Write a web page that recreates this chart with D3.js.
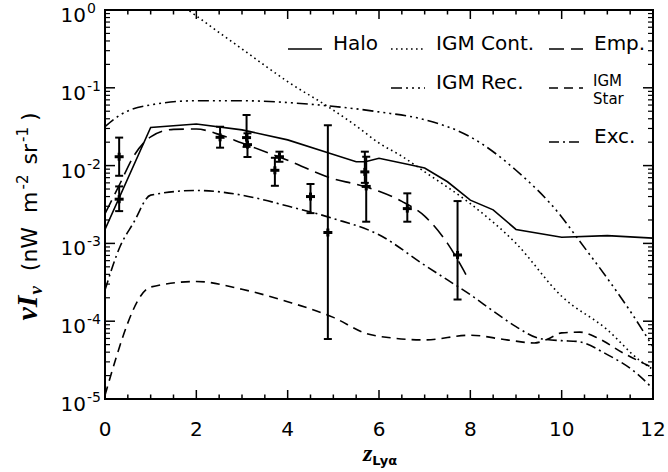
<!DOCTYPE html>
<html><head><meta charset="utf-8">
<script src="https://cdn.jsdelivr.net/npm/d3@7"></script>
<style>
html,body{margin:0;padding:0;background:#fff;}
svg text{font-family:"DejaVu Sans",sans-serif;fill:#000;}
</style></head>
<body><svg id="c" width="668" height="472"></svg>
<script>
// ---- data ----
const xTickValues = [0, 2, 4, 6, 8, 10, 12];
const yTickExps = [0, -1, -2, -3, -4, -5];

const haloZ = [0, 1, 2, 3, 4, 4.9, 5.5, 5.7, 6, 6.7, 7, 7.5, 8, 8.5, 9, 10, 11, 12];
const haloI = [1.51e-3, 3.09e-2, 3.43e-2, 2.88e-2, 2.14e-2, 1.45e-2, 1.12e-2, 1.12e-2, 1.24e-2, 1.02e-2, 9.3e-3, 6.2e-3, 3.6e-3, 2.7e-3, 1.51e-3, 1.20e-3, 1.26e-3, 1.17e-3];

const igmContZ = [1.4, 1.82, 2.5, 3, 3.54, 4, 4.85, 5.5, 6, 6.5, 7, 8, 9, 10, 11, 11.7, 12];
const igmContI = [1.48, 1.0, 0.513, 0.316, 0.186, 0.120, 0.0589, 0.0324, 0.0195, 0.0132, 0.00832, 0.00324, 1.0e-3, 2.09e-4, 7.76e-5, 3.16e-5, 2.4e-5];

const igmRecZ = [0, 0.33, 1, 2, 3, 4, 4.85, 6, 7, 8, 9, 10, 10.33, 11, 11.5, 12];
const igmRecI = [0.0316, 0.0447, 0.0603, 0.0682, 0.0682, 0.0646, 0.0589, 0.0490, 0.0389, 0.0234, 0.00871, 0.00219, 0.00120, 3.55e-4, 1.35e-4, 4.68e-5];

const empZ = [0, 0.33, 0.62, 1, 1.5, 2, 2.5, 3, 4, 5, 5.5, 6, 6.5, 7, 7.5, 7.95];
const empI = [2.40e-3, 5.89e-3, 1.30e-2, 2.34e-2, 2.92e-2, 2.95e-2, 2.51e-2, 1.95e-2, 1.17e-2, 6.76e-3, 5.75e-3, 4.68e-3, 3.47e-3, 2.24e-3, 1.0e-3, 3.55e-4];

const igmStarZ = [0, 1, 2, 3, 4, 5, 5.73, 6.2, 7, 8, 8.8, 9.4, 9.7, 10, 10.4, 10.8, 11.35, 11.86, 12];
const igmStarI = [1.12e-5, 2.75e-4, 3.24e-4, 2.57e-4, 1.78e-4, 1.12e-4, 6.92e-5, 6.17e-5, 5.75e-5, 6.61e-5, 5.75e-5, 5.25e-5, 5.89e-5, 7.08e-5, 7.24e-5, 6.03e-5, 3.89e-5, 2.75e-5, 2.51e-5];

const excZ = [0, 0.33, 0.62, 1, 2, 3, 3.4, 4, 5, 6, 7, 7.5, 8, 8.5, 9, 9.5, 10, 10.33, 11, 11.64, 12];
const excI = [2.51e-4, 9.12e-4, 1.82e-3, 4.17e-3, 4.79e-3, 4.17e-3, 3.72e-3, 3.02e-3, 2.09e-3, 1.29e-3, 5.25e-4, 3.39e-4, 2.19e-4, 1.35e-4, 8.51e-5, 6.03e-5, 5.62e-5, 5.50e-5, 3.72e-5, 2.14e-5, 1.35e-5];

const ptZ  = [0.31, 0.31, 2.52, 3.10, 3.12, 3.72, 3.82, 4.50, 4.88, 5.69, 5.72, 6.62, 7.72];
const ptI  = [0.013, 0.0037, 0.0231, 0.0229, 0.0186, 0.0087, 0.013, 0.0040, 0.00138, 0.0083, 0.0054, 0.0028, 7.1e-4];
const ptHi = [0.0229, 0.0054, 0.0316, 0.0447, 0.026, 0.0126, 0.0151, 0.0058, 0.033, 0.0151, 0.013, 0.0044, 0.0035];
const ptLo = [0.0074, 0.0026, 0.0170, 0.0174, 0.0129, 0.0055, 0.0112, 0.00245, 5.9e-5, 0.0060, 0.0019, 0.0019, 1.9e-4];

const legendNames = ["Halo", "IGM Cont.", "Emp.", "IGM Rec.", "IGM|Star", "Exc."];

// ---- layout ----
const L = 105, R = 653, T = 10, B = 399;
const svg = d3.select("#c");
const x = d3.scaleLinear().domain([0, 12]).range([L, R]);
const y = d3.scaleLog().domain([1e-5, 1]).range([B, T]);

const styles = {
  halo:  {dash: null},
  cont:  {dash: "1.6,3.4"},
  emp:   {dash: "15,7"},
  rec:   {dash: "11,4,2,4,2,4,2,4"},
  star:  {dash: "9,6"},
  exc:   {dash: "10,4,2,4"}
};

svg.append("defs").append("clipPath").attr("id","clip")
  .append("rect").attr("x", L).attr("y", T).attr("width", R-L).attr("height", B-T);

const g = svg.append("g").attr("clip-path","url(#clip)");

function drawSeries(zs, vs, st, curve) {
  const line = d3.line().x(d => x(d[0])).y(d => y(d[1])).curve(curve);
  g.append("path").datum(zs.map((z,i)=>[z, vs[i]]))
    .attr("d", line).attr("fill","none").attr("stroke","#000")
    .attr("stroke-width",1.6).attr("stroke-dasharray", st.dash);
}
drawSeries(haloZ, haloI, styles.halo, d3.curveLinear);
drawSeries(igmContZ, igmContI, styles.cont, d3.curveMonotoneX);
drawSeries(igmRecZ, igmRecI, styles.rec, d3.curveMonotoneX);
drawSeries(empZ, empI, styles.emp, d3.curveMonotoneX);
drawSeries(igmStarZ, igmStarI, styles.star, d3.curveMonotoneX);
drawSeries(excZ, excI, styles.exc, d3.curveMonotoneX);

// error bars
const eb = svg.append("g").attr("stroke","#000").attr("stroke-width",2);
ptZ.forEach((z,i) => {
  const px = x(z);
  eb.append("line").attr("x1",px).attr("x2",px).attr("y1",y(ptHi[i])).attr("y2",y(ptLo[i]));
  eb.append("line").attr("x1",px-4).attr("x2",px+4).attr("y1",y(ptHi[i])).attr("y2",y(ptHi[i]));
  eb.append("line").attr("x1",px-4).attr("x2",px+4).attr("y1",y(ptLo[i])).attr("y2",y(ptLo[i]));
  eb.append("line").attr("x1",px-4.5).attr("x2",px+4.5).attr("y1",y(ptI[i])).attr("y2",y(ptI[i])).attr("stroke-width",3);
  eb.append("line").attr("x1",px).attr("x2",px).attr("y1",y(ptI[i])-4).attr("y2",y(ptI[i])+4).attr("stroke-width",3);
});

// frame and ticks
const ax = svg.append("g").attr("stroke","#000");
ax.append("rect").attr("x",L).attr("y",T).attr("width",R-L).attr("height",B-T)
  .attr("fill","none").attr("stroke-width",2);
const xMinor = d3.range(0, 12.01, 0.5);
xMinor.forEach(v => {
  const major = xTickValues.includes(v);
  const len = major ? 9 : 4.5;
  ax.append("line").attr("x1",x(v)).attr("x2",x(v)).attr("y1",B).attr("y2",B-len).attr("stroke-width",1.5);
  ax.append("line").attr("x1",x(v)).attr("x2",x(v)).attr("y1",T).attr("y2",T+len).attr("stroke-width",1.5);
});
yTickExps.forEach(e => {
  const v = Math.pow(10, e);
  ax.append("line").attr("x1",L).attr("x2",L+10).attr("y1",y(v)).attr("y2",y(v)).attr("stroke-width",1.5);
  ax.append("line").attr("x1",R).attr("x2",R-10).attr("y1",y(v)).attr("y2",y(v)).attr("stroke-width",1.5);
  if (e > -5) {
    for (let m = 2; m <= 9; m++) {
      const mv = m * Math.pow(10, e-1);
      ax.append("line").attr("x1",L).attr("x2",L+5).attr("y1",y(mv)).attr("y2",y(mv)).attr("stroke-width",1.2);
      ax.append("line").attr("x1",R).attr("x2",R-5).attr("y1",y(mv)).attr("y2",y(mv)).attr("stroke-width",1.2);
    }
  }
});

// tick labels
xTickValues.forEach(v => {
  svg.append("text").attr("x",x(v)).attr("y",436).attr("text-anchor","middle")
    .attr("font-size",20).text(v);
});
yTickExps.forEach(e => {
  const ty = y(Math.pow(10,e));
  svg.append("text").attr("x",86).attr("y",ty+12).attr("text-anchor","end").attr("font-size",20).text("10");
  svg.append("text").attr("x",87).attr("y",ty+3).attr("text-anchor","start").attr("font-size",14).text(e === 0 ? "0" : "-" + (-e));
});

// axis titles
const xt = svg.append("text").attr("x",380).attr("y",461).attr("text-anchor","middle");
xt.append("tspan").attr("font-family","Liberation Serif").attr("font-style","italic").attr("font-weight","bold").attr("font-size",24).text("z");
xt.append("tspan").attr("font-weight","bold").attr("font-size",13).attr("dy",4).text("Lyα");

const yt = svg.append("text").attr("transform","translate(37,216.5) rotate(-90)").attr("text-anchor","middle");
yt.append("tspan").attr("font-family","Liberation Serif").attr("font-style","italic").attr("font-weight","bold").attr("font-size",30).text("νI");
yt.append("tspan").attr("font-family","Liberation Serif").attr("font-style","italic").attr("font-weight","bold").attr("font-size",19).attr("dx",1).attr("dy",5).text("ν");
yt.append("tspan").attr("font-size",22).attr("dx",15).attr("dy",-5).text("(nW\u00a0\u00a0m");
yt.append("tspan").attr("font-size",15).attr("dx",2).attr("dy",-9).text("-2");
yt.append("tspan").attr("font-size",22).attr("dx",10).attr("dy",9).text("sr");
yt.append("tspan").attr("font-size",15).attr("dx",2).attr("dy",-9).text("-1");
yt.append("tspan").attr("font-size",22).attr("dx",6).attr("dy",9).text(")");

// legend
const leg = [
  {x0: 288, ly: 49, st: styles.halo, name: legendNames[0]},
  {x0: 391, ly: 49, st: styles.cont, name: legendNames[1]},
  {x0: 549, ly: 49, st: styles.emp,  name: legendNames[2]},
  {x0: 391, ly: 88, st: styles.rec,  name: legendNames[3]},
  {x0: 549, ly: 88, st: styles.star, name: legendNames[4]},
  {x0: 549, ly: 142, st: styles.exc, name: legendNames[5]}
];
leg.forEach(d => {
  svg.append("line").attr("x1",d.x0).attr("x2",d.x0+34).attr("y1",d.ly).attr("y2",d.ly)
    .attr("stroke","#000").attr("stroke-width",1.6).attr("stroke-dasharray",d.st.dash);
  const parts = d.name.split("|");
  if (parts.length === 1) {
    svg.append("text").attr("x",d.x0+45).attr("y",d.ly+1).attr("font-size",20).text(d.name);
  } else {
    svg.append("text").attr("x",d.x0+44).attr("y",d.ly-2).attr("font-size",15).text(parts[0]);
    svg.append("text").attr("x",d.x0+44).attr("y",d.ly+16).attr("font-size",15).text(parts[1]);
  }
});
</script></body></html>
